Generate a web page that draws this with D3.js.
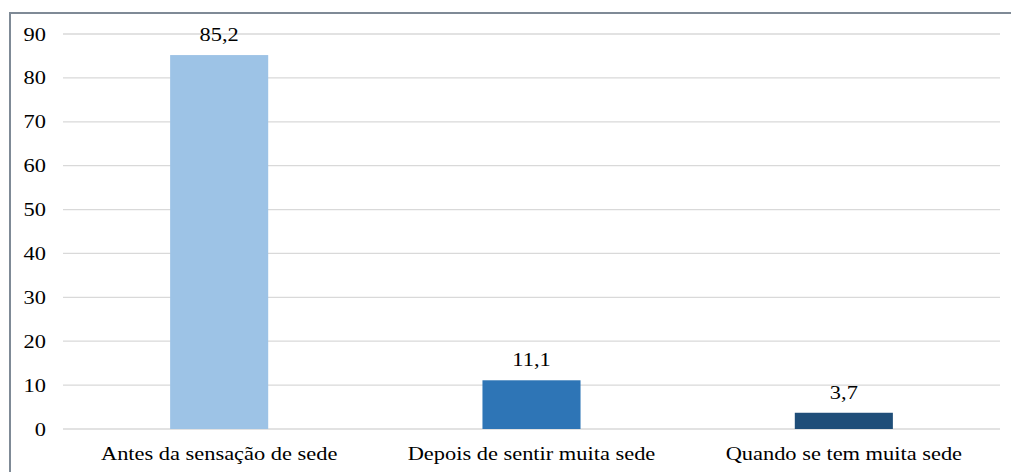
<!DOCTYPE html>
<html><head><meta charset="utf-8">
<script src="https://cdn.jsdelivr.net/npm/d3@7"></script>
<style>body{margin:0;background:#fff}svg{display:block}
svg text{font-family:"Liberation Serif","Times New Roman",serif !important;fill:#000}</style>
</head><body>
<svg id="c" width="1011" height="472"></svg>
<script>
const categories = ["Antes da sensação de sede", "Depois de sentir muita sede", "Quando se tem muita sede"];
const values = [85.2, 11.1, 3.7];
const valueLabels = ["85,2", "11,1", "3,7"];
const yTicks = [0, 10, 20, 30, 40, 50, 60, 70, 80, 90];
const colors = ["#9DC3E6", "#2E75B6", "#1F4E79"];

const svg = d3.select("#c");
const fs = 19;
const sx = 1.18; // horizontal stretch seen in the reference text

// frame
svg.append("path").attr("d", "M10,472 V13 H1011").attr("fill", "none")
  .attr("stroke", "#7F8A96").attr("stroke-width", 2);

const x = d3.scaleBand().domain(categories).range([63, 1000]).paddingInner(0.686).paddingOuter(0.343);
const y = d3.scaleLinear().domain([0, 90]).range([429, 34]);

// gridlines
svg.append("g").selectAll("line").data(yTicks).join("line")
  .attr("x1", 63).attr("x2", 1000)
  .attr("y1", d => y(d)).attr("y2", d => y(d))
  .attr("stroke", "#D9D9D9").attr("stroke-width", 1.3);

// y axis labels
const yAxis = d3.axisLeft(y).tickValues(yTicks).tickSize(0).tickPadding(0).tickFormat(d3.format("d"));
const ya = svg.append("g").attr("transform", "translate(46,0)").call(yAxis);
ya.select(".domain").remove();
ya.attr("font-size", fs);
ya.selectAll("text").attr("transform", `scale(${sx},1)`);

// bars
svg.append("g").selectAll("rect").data(values).join("rect")
  .attr("x", (d, i) => x(categories[i])).attr("width", x.bandwidth())
  .attr("y", d => y(d)).attr("height", d => y(0) - y(d))
  .attr("fill", (d, i) => colors[i]);

// value labels
svg.append("g").selectAll("g").data(values).join("g")
  .attr("transform", (d, i) => `translate(${x(categories[i]) + x.bandwidth() / 2},${y(d) - 14}) scale(${sx},1)`)
  .append("text")
  .attr("text-anchor", "middle").attr("font-size", fs)
  .text((d, i) => valueLabels[i]);

// x axis labels
const xAxis = d3.axisBottom(x).tickSize(0).tickPadding(0);
const xa = svg.append("g").attr("transform", "translate(0,446.5)").call(xAxis);
xa.select(".domain").remove();
xa.attr("font-size", fs);
xa.selectAll("text").attr("transform", `scale(${sx},1)`);
</script>
</body></html>
